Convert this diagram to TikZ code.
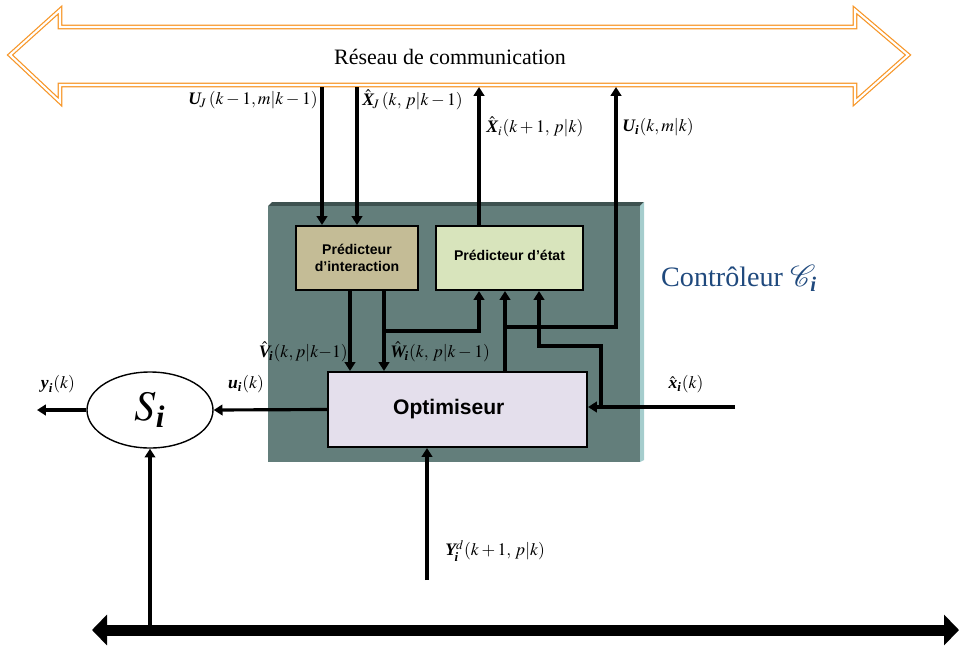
\documentclass[tikz,border=0pt]{standalone}
\usepackage{amsmath}
\usepackage{amssymb}
\usepackage{mathptmx}
\usepackage{mathrsfs}
\usepackage{fontspec}
\setmainfont{Liberation Serif}
\newfontfamily\boxfont{Liberation Sans}
\usetikzlibrary{arrows.meta}
\usetikzlibrary{shapes.geometric}

\newcommand{\bv}[1]{\text{\bfseries\itshape #1}}

\definecolor{netorange}{RGB}{247,150,40}
\definecolor{ctrlgray}{RGB}{99,126,123}
\definecolor{ctrldark}{RGB}{62,82,80}
\definecolor{ctrllight}{RGB}{165,205,205}
\definecolor{interfill}{RGB}{196,188,150}
\definecolor{etatfill}{RGB}{216,228,188}
\definecolor{optfill}{RGB}{228,223,236}
\definecolor{ctrlblue}{RGB}{31,73,125}

\begin{document}
\begin{tikzpicture}[font=\fontsize{10}{12}\selectfont]
	\useasboundingbox (0,0) rectangle (19.18,12.92);
	% reseau de communication
	\draw[netorange, line width=0.7pt, double=white, double distance=1.2pt]
		(0.20,11.82) -- (1.20,12.72) -- (1.20,12.38) -- (17.10,12.38) -- (17.10,12.72)
		-- (18.16,11.82) -- (17.10,10.88) -- (17.10,11.22) -- (1.20,11.22) -- (1.20,10.88) -- cycle;
	\node (net) at (9.00,11.78) {\fontsize{12.5}{14}\selectfont Réseau de communication};
	% controleur
	\fill[ctrldark] (5.36,8.80) -- (5.44,8.88) -- (12.88,8.88) -- (12.80,8.80) -- cycle;
	\fill[ctrllight] (12.80,8.80) -- (12.88,8.88) -- (12.88,3.72) -- (12.80,3.68) -- cycle;
	\fill[ctrlgray] (5.36,3.68) rectangle (12.80,8.80);
	\node[ctrlblue, anchor=west, font=\fontsize{16}{18}\selectfont] (ctrl) at (13.10,7.36) {Contrôleur $\mathscr{C}_{\bv{i}}$};
	\begin{scope}[every node/.style={draw, line width=1.2pt, align=center, minimum height=1.28cm,
			font=\boxfont\bfseries\fontsize{8}{10}\selectfont}]
		\node[fill=interfill, minimum width=2.44cm] (inter) at (7.14,7.76) {Prédicteur\\d’interaction};
		\node[fill=etatfill, minimum width=2.94cm] (etat) at (10.19,7.76) {\raisebox{3.4pt}{Prédicteur d’état}};
		\node[fill=optfill, minimum width=5.18cm, minimum height=1.50cm,
			font=\boxfont\bfseries\fontsize{12}{14}\selectfont] (opt) at (9.15,4.73) {Optimiseur\hspace{0.35cm}};
		\node[ellipse, fill=white, line width=0.8pt, minimum width=2.52cm, minimum height=1.52cm,
			font=\fontsize{24}{28}\selectfont] (sys) at (3.00,4.72) {$S_{\bv{i}}$};
	\end{scope}
	\coordinate (uJtop) at (6.44,11.18);
	\coordinate (xJtop) at (7.14,11.18);
	\coordinate (xitop) at (9.58,11.18);
	\coordinate (uitop) at (12.32,11.18);
	\coordinate (wsplit) at (7.68,6.30);
	\coordinate (usplit) at (10.10,6.38);
	\coordinate (xsplit) at (12.02,4.78);
	\coordinate (xbend) at (10.78,6.00);
	\coordinate (xin) at (14.70,4.78);
	\coordinate (yout) at (0.74,4.72);
	\coordinate (ydin) at (8.54,1.32);
	\coordinate (bustap) at (3.00,0.40);
	\coordinate (busl) at (1.84,0.32);
	\coordinate (busr) at (19.18,0.32);
	\begin{scope}[>={Triangle[length=5pt,width=6pt]}, line width=1.8pt]
		\draw[->] (uJtop) -- (uJtop |- inter.north);
		\draw[->] (xJtop) -- (xJtop |- inter.north);
		\draw[->] (xitop |- etat.north) -- (xitop);
		\draw[->] ([xshift=-0.14cm]inter.south) -- ([xshift=-0.14cm]inter.south |- opt.north);
		\draw[->] (wsplit |- inter.south) -- (wsplit |- opt.north);
		\draw[->] (wsplit) -| (xitop |- etat.south);
		\draw[->] (usplit |- opt.north) -- (usplit |- etat.south);
		\draw[->] (usplit) -| (uitop);
		\draw[->] (xin) -- (xin -| opt.east);
		\draw[->] (xsplit) |- (xbend) -- (xbend |- etat.south);
		\draw[->] (opt.west) -- (sys.east);
		\draw[->] (sys.west) -- (yout);
		\draw[->] (ydin) -- (ydin |- opt.south);
		\draw[->] (bustap) -- (sys.south);
	\end{scope}
	\draw[{Triangle[length=0.3cm,width=0.6cm]}-{Triangle[length=0.3cm,width=0.6cm]}, line width=0.22cm] (busl) -- (busr);
	% grandeurs
	\begin{scope}[every node/.style={inner sep=0pt}]
		\node[anchor=east] (luJ) at (6.36,10.92) {$\bv{U}_{\!J}\,(k-1,m|k-1)$};
		\node[anchor=west] (lxJ) at (7.24,10.92) {$\hat{\bv{X}}_{\!J}\,(k,\,p|k-1)$};
		\node[anchor=west] (lxi) at (9.72,10.38) {$\hat{\bv{X}}_{i}(k+1,\,p|k)$};
		\node[anchor=west] (lui) at (12.44,10.38) {$\bv{U}_{\bv{i}}(k,m|k)$};
		\node[anchor=east] (lV) at (6.96,5.88) {$\hat{\bv{V}}_{\!\bv{i}}(k,p|k{-}1)$};
		\node[anchor=west] (lW) at (7.80,5.88) {$\hat{\bv{W}}_{\!\bv{i}}(k,\,p|k-1)$};
		\node (lu) at (4.92,5.24) {$\bv{u}_{\bv{i}}(k)$};
		\node (ly) at (1.16,5.24) {$\bv{y}_{\bv{i}}(k)$};
		\node (lx) at (13.72,5.24) {$\hat{\bv{x}}_{\bv{i}}(k)$};
		\node[anchor=west] (lY) at (8.90,1.90) {$\bv{Y}_{\!\bv{i}}^{d}(k+1,\,p|k)$};
	\end{scope}
\end{tikzpicture}
\end{document}
